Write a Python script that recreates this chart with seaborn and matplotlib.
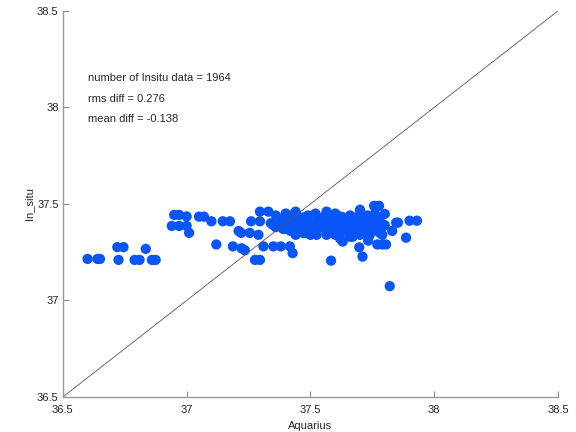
import numpy as np
import pandas as pd
import matplotlib
matplotlib.use("Agg")
import matplotlib.pyplot as plt
import seaborn as sns

# points (Aquarius vs in situ salinity)
aquarius = [
    # sparse group on the left
    36.60, 36.64, 36.65, 36.72, 36.745, 36.725, 36.79, 36.81, 36.835, 36.86, 36.875,
    # group near 37
    36.95, 36.97, 37.00, 36.94, 36.97, 37.00, 37.01,
    37.05, 37.07, 37.10, 37.12, 37.146, 37.175,
    37.187, 37.222, 37.235, 37.21, 37.22, 37.255,
    37.276, 37.296, 37.296, 37.33, 37.26, 37.296, 37.29, 37.31,
    37.35, 37.38, 37.417, 37.428,
    # outliers around the main cluster
    37.757, 37.777, 37.80, 37.846, 37.853, 37.90, 37.93, 37.83, 37.886,
    37.77, 37.79, 37.805, 37.733, 37.697, 37.71, 37.583, 37.82,
    37.63, 37.62, 37.67, 37.70, 37.47, 37.525, 37.565, 37.44, 37.565, 37.70,
    # dense cluster
    37.36, 37.40, 37.44, 37.47, 37.52, 37.56, 37.60, 37.63, 37.66, 37.70, 37.73, 37.76,
    37.38, 37.42, 37.45, 37.49, 37.53, 37.55, 37.58, 37.61, 37.64, 37.67, 37.69, 37.72, 37.75, 37.78,
    37.34, 37.37, 37.41, 37.44, 37.48, 37.51, 37.54, 37.57, 37.60, 37.62, 37.65, 37.68, 37.71, 37.74, 37.77, 37.80,
    37.36, 37.39, 37.43, 37.46, 37.50, 37.53, 37.56, 37.59, 37.62, 37.64, 37.67, 37.70, 37.73, 37.76, 37.79,
    37.42, 37.48, 37.52, 37.58, 37.61, 37.66, 37.69, 37.72, 37.75, 37.78,
    37.44, 37.50, 37.60, 37.66, 37.74, 37.79,
    37.39, 37.43, 37.47, 37.51, 37.55, 37.59, 37.63, 37.67, 37.71, 37.75,
    37.40, 37.46, 37.54, 37.58, 37.63, 37.68, 37.72, 37.77,
    37.41, 37.45, 37.49, 37.53, 37.57, 37.61, 37.65, 37.69, 37.73,
    37.35, 37.47, 37.55, 37.64, 37.71, 37.78,
]
insitu = [
    37.215, 37.215, 37.215, 37.276, 37.276, 37.21, 37.21, 37.21, 37.267, 37.21, 37.21,
    37.443, 37.443, 37.435, 37.386, 37.386, 37.386, 37.35,
    37.434, 37.434, 37.41, 37.29, 37.41, 37.41,
    37.28, 37.27, 37.26, 37.36, 37.35, 37.35,
    37.21, 37.21, 37.46, 37.46, 37.41, 37.41, 37.34, 37.28,
    37.28, 37.28, 37.28, 37.245,
    37.49, 37.49, 37.448, 37.403, 37.403, 37.413, 37.413, 37.36, 37.325,
    37.29, 37.29, 37.29, 37.31, 37.275, 37.227, 37.206, 37.074,
    37.305, 37.32, 37.33, 37.34, 37.35, 37.34, 37.34, 37.46, 37.46, 37.47,
    37.44, 37.45, 37.44, 37.43, 37.45, 37.44, 37.45, 37.43, 37.44, 37.45, 37.44, 37.45,
    37.42, 37.42, 37.43, 37.41, 37.42, 37.43, 37.42, 37.41, 37.42, 37.43, 37.42, 37.41, 37.42, 37.43,
    37.40, 37.39, 37.40, 37.40, 37.39, 37.40, 37.41, 37.40, 37.39, 37.40, 37.40, 37.39, 37.40, 37.41, 37.40, 37.39,
    37.38, 37.37, 37.38, 37.37, 37.38, 37.38, 37.37, 37.38, 37.37, 37.38, 37.38, 37.37, 37.38, 37.37, 37.38,
    37.36, 37.35, 37.36, 37.36, 37.35, 37.36, 37.36, 37.35, 37.36, 37.35,
    37.34, 37.34, 37.34, 37.33, 37.34, 37.34,
    37.41, 37.39, 37.42, 37.38, 37.41, 37.39, 37.43, 37.40, 37.42, 37.38,
    37.37, 37.36, 37.38, 37.35, 37.37, 37.36, 37.35, 37.37,
    37.44, 37.42, 37.44, 37.43, 37.41, 37.44, 37.42, 37.43, 37.41,
    37.39, 37.40, 37.41, 37.36, 37.38, 37.41,
]

stats_lines = ["number of Insitu data = 1964", "rms diff = 0.276", "mean diff = -0.138"]
stats_y = [38.15, 38.045, 37.94]

df = pd.DataFrame({"Aquarius": aquarius, "In_situ": insitu})

sns.set_style("white")
plt.rcParams["font.family"] = ["Liberation Sans", "DejaVu Sans"]

fig = plt.figure(figsize=(5.76, 4.32), dpi=100)
ax = fig.add_axes([0.109, 0.081, 0.86, 0.894])

ax.plot([36.5, 38.5], [36.5, 38.5], color="#555555", lw=0.6)
sns.scatterplot(data=df, x="Aquarius", y="In_situ", ax=ax, s=55,
                color="#0a55f5", edgecolor="none", linewidth=0)

for txt, yy in zip(stats_lines, stats_y):
    ax.text(36.6, yy, txt, fontsize=8, va="center", ha="left")

ax.set_xlim(36.5, 38.5)
ax.set_ylim(36.5, 38.5)
ticks = [36.5, 37, 37.5, 38, 38.5]
ax.set_xticks(ticks)
ax.set_yticks(ticks)
ax.set_xticklabels(["36.5", "37", "37.5", "38", "38.5"])
ax.set_yticklabels(["36.5", "37", "37.5", "38", "38.5"])
ax.tick_params(direction="in", length=4, width=0.8, color="#888888",
               labelsize=8, left=True, bottom=True)
ax.tick_params(axis="x", pad=6)
ax.tick_params(axis="y", pad=3)
ax.set_xlabel("Aquarius", fontsize=8, labelpad=4)
ax.set_ylabel("In_situ", fontsize=8, labelpad=2)

for side in ["top", "right"]:
    ax.spines[side].set_visible(False)
for side in ["left", "bottom"]:
    ax.spines[side].set_color("#999999")
    ax.spines[side].set_linewidth(1.0)

fig.savefig("out.png", dpi=100)
